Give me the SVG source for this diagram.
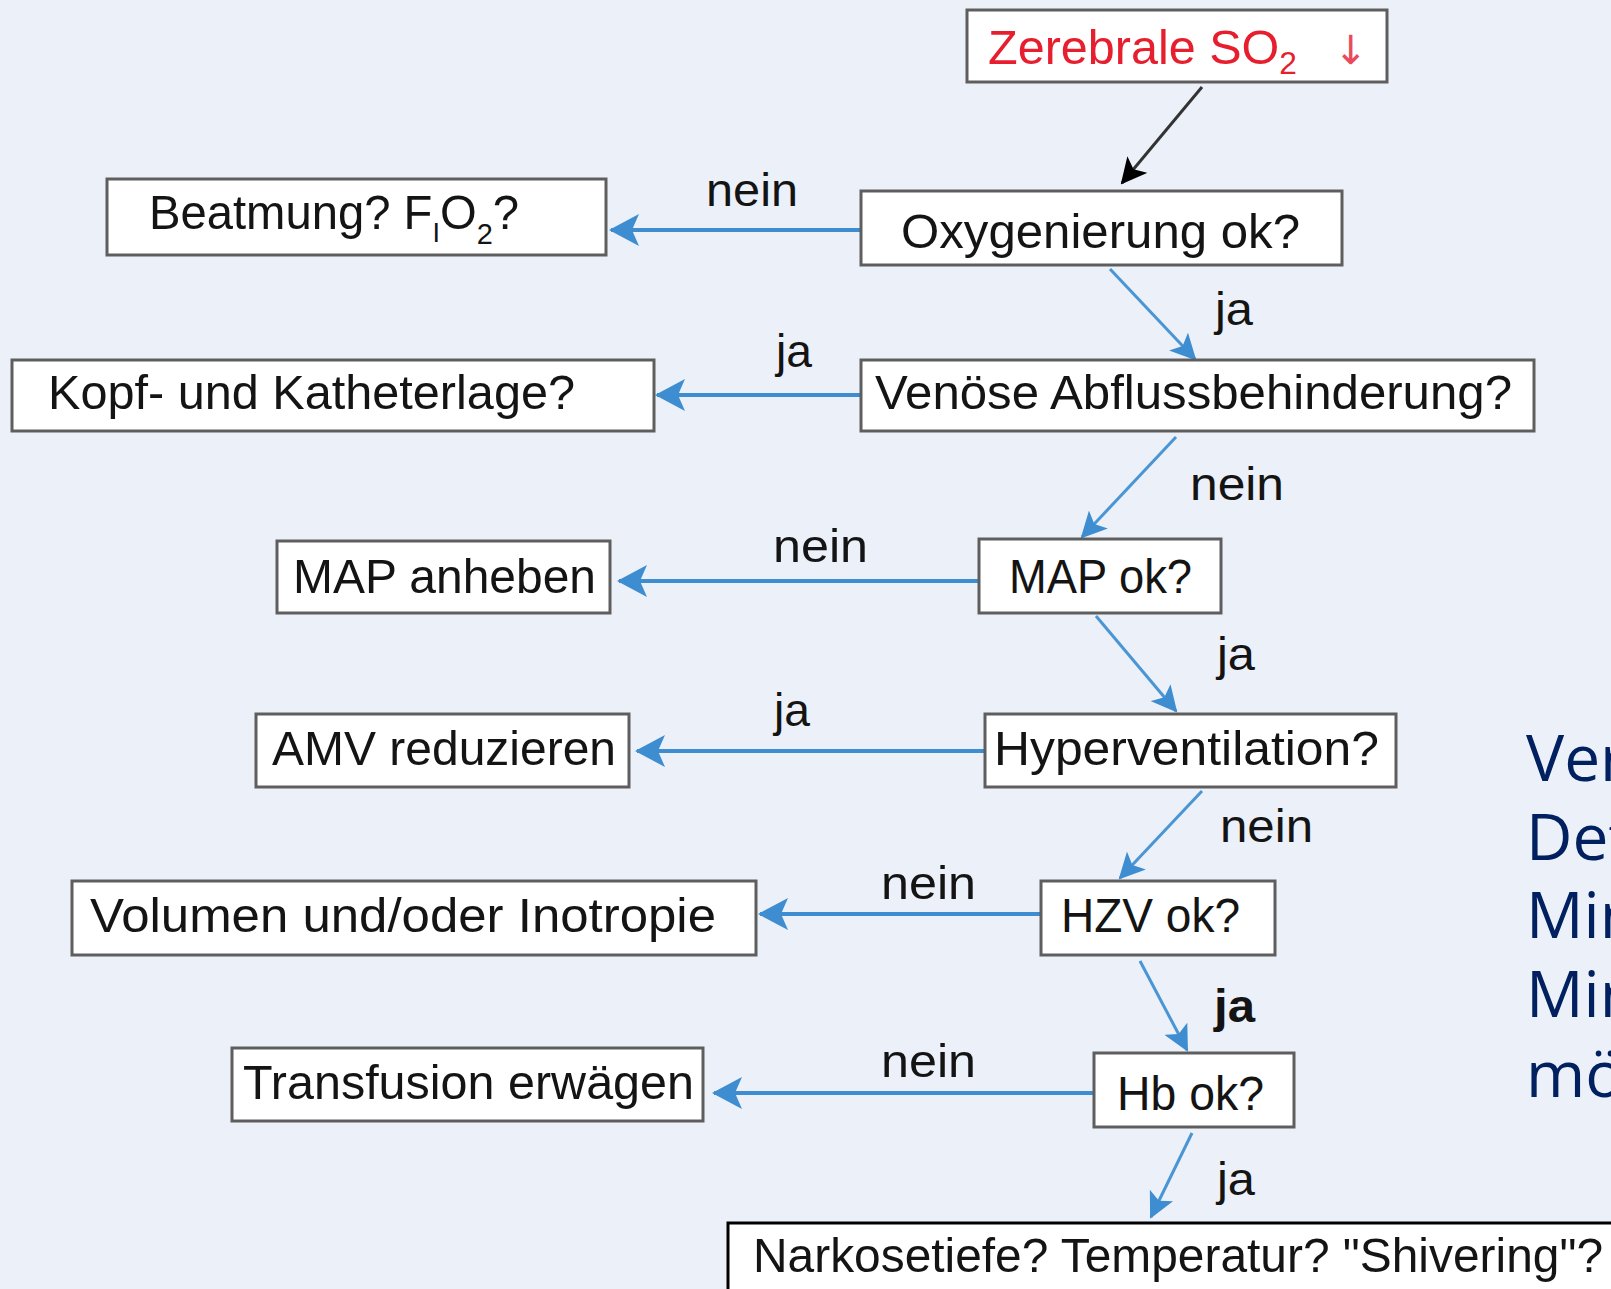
<svg xmlns="http://www.w3.org/2000/svg" width="1611" height="1289" viewBox="0 0 1611 1289">
<defs>
<style>
.box{fill:#ffffff;stroke:#5e5e5e;stroke-width:3}
.t{font-family:"Liberation Sans",Arial,sans-serif;font-size:49px;fill:#141414}
.lbl{font-family:"Liberation Sans",Arial,sans-serif;font-size:46px;fill:#141414}
.h{fill:none;stroke:#3d8dd0;stroke-width:4}
.d{fill:none;stroke:#4a95d4;stroke-width:3}
.side{font-family:"Open Sans","Noto Sans",sans-serif;font-size:64px;fill:#002060}
</style>
<marker id="ah" viewBox="0 0 30 32" refX="28" refY="16" markerWidth="30" markerHeight="32" markerUnits="userSpaceOnUse" orient="auto">
<path d="M0,0 L30,16 L0,32 L7,16 z" fill="#3d8dd0"/>
</marker>
<marker id="ad" viewBox="0 0 26 26" refX="24" refY="13" markerWidth="26" markerHeight="26" markerUnits="userSpaceOnUse" orient="auto">
<path d="M0,0 L26,13 L0,26 L6,13 z" fill="#3d8dd0"/>
</marker>
<marker id="ak" viewBox="0 0 26 26" refX="24" refY="13" markerWidth="26" markerHeight="26" markerUnits="userSpaceOnUse" orient="auto">
<path d="M0,0 L26,13 L0,26 L6,13 z" fill="#000"/>
</marker>
</defs>
<rect x="0" y="0" width="1611" height="1289" fill="#ecf0f9"/>

<g id="connectors">
<line x1="1202" y1="87" x2="1122" y2="183" stroke="#333" stroke-width="3" marker-end="url(#ak)"/>
<line class="h" x1="861" y1="230" x2="611" y2="230" marker-end="url(#ah)"/>
<line class="d" x1="1110" y1="269" x2="1195" y2="359" marker-end="url(#ad)"/>
<line class="h" x1="861" y1="395" x2="657" y2="395" marker-end="url(#ah)"/>
<line class="d" x1="1176" y1="437" x2="1082" y2="537" marker-end="url(#ad)"/>
<line class="h" x1="979" y1="581" x2="619" y2="581" marker-end="url(#ah)"/>
<line class="d" x1="1096" y1="616" x2="1176" y2="711" marker-end="url(#ad)"/>
<line class="h" x1="985" y1="751" x2="637" y2="751" marker-end="url(#ah)"/>
<line class="d" x1="1202" y1="791" x2="1120" y2="878" marker-end="url(#ad)"/>
<line class="h" x1="1041" y1="914" x2="760" y2="914" marker-end="url(#ah)"/>
<line class="d" x1="1140" y1="961" x2="1187" y2="1050" marker-end="url(#ad)"/>
<line class="h" x1="1094" y1="1093" x2="714" y2="1093" marker-end="url(#ah)"/>
<line class="d" x1="1192" y1="1133" x2="1151" y2="1217" marker-end="url(#ad)"/>
<text class="lbl" x="706" y="206" textLength="92" lengthAdjust="spacingAndGlyphs">nein</text>
<text class="lbl" x="1215" y="325" textLength="38" lengthAdjust="spacingAndGlyphs">ja</text>
<text class="lbl" x="776" y="367" textLength="36" lengthAdjust="spacingAndGlyphs">ja</text>
<text class="lbl" x="1190" y="500" textLength="94" lengthAdjust="spacingAndGlyphs">nein</text>
<text class="lbl" x="773" y="562" textLength="95" lengthAdjust="spacingAndGlyphs">nein</text>
<text class="lbl" x="1217" y="670" textLength="38" lengthAdjust="spacingAndGlyphs">ja</text>
<text class="lbl" x="774" y="726" textLength="36" lengthAdjust="spacingAndGlyphs">ja</text>
<text class="lbl" x="1220" y="842" textLength="93" lengthAdjust="spacingAndGlyphs">nein</text>
<text class="lbl" x="881" y="899" textLength="95" lengthAdjust="spacingAndGlyphs">nein</text>
<text class="lbl" x="1214" y="1022" textLength="41" lengthAdjust="spacingAndGlyphs" font-weight="bold">ja</text>
<text class="lbl" x="881" y="1077" textLength="95" lengthAdjust="spacingAndGlyphs">nein</text>
<text class="lbl" x="1217" y="1195" textLength="38" lengthAdjust="spacingAndGlyphs">ja</text>
</g>

<g id="n-zerebrale">
<rect class="box" x="967" y="10" width="420" height="72"/>
<text class="t" x="988" y="64" textLength="309" lengthAdjust="spacingAndGlyphs" style="fill:#e61e2e">Zerebrale SO<tspan font-size="32" dy="10">2</tspan></text>
<text x="1334" y="64" font-family="DejaVu Sans, sans-serif" font-size="40" fill="#ea4a5c">↓</text>
</g>
<g id="n-oxy">
<rect class="box" x="861" y="191" width="481" height="74"/>
<text class="t" x="901" y="248" textLength="399" lengthAdjust="spacingAndGlyphs">Oxygenierung ok?</text>
</g>
<g id="n-beatmung">
<rect class="box" x="107" y="179" width="499" height="76"/>
<text class="t" x="149" y="229" textLength="370" lengthAdjust="spacingAndGlyphs">Beatmung? F<tspan font-size="28" dy="13">I</tspan><tspan dy="-13">O</tspan><tspan font-size="30" dy="15">2</tspan><tspan dy="-15">?</tspan></text>
</g>
<g id="n-venoese">
<rect class="box" x="861" y="360" width="673" height="71"/>
<text class="t" x="875" y="409" textLength="637" lengthAdjust="spacingAndGlyphs">Venöse Abflussbehinderung?</text>
</g>
<g id="n-kopf">
<rect class="box" x="12" y="360" width="642" height="71"/>
<text class="t" x="48" y="409" textLength="527" lengthAdjust="spacingAndGlyphs">Kopf- und Katheterlage?</text>
</g>
<g id="n-mapok">
<rect class="box" x="979" y="539" width="242" height="74"/>
<text class="t" x="1009" y="593" textLength="183" lengthAdjust="spacingAndGlyphs">MAP ok?</text>
</g>
<g id="n-mapanheben">
<rect class="box" x="277" y="541" width="333" height="72"/>
<text class="t" x="293" y="593" textLength="303" lengthAdjust="spacingAndGlyphs">MAP anheben</text>
</g>
<g id="n-hyper">
<rect class="box" x="985" y="714" width="411" height="73"/>
<text class="t" x="994" y="765" textLength="385" lengthAdjust="spacingAndGlyphs">Hyperventilation?</text>
</g>
<g id="n-amv">
<rect class="box" x="256" y="714" width="373" height="73"/>
<text class="t" x="272" y="765" textLength="344" lengthAdjust="spacingAndGlyphs">AMV reduzieren</text>
</g>
<g id="n-hzv">
<rect class="box" x="1041" y="881" width="234" height="74"/>
<text class="t" x="1061" y="932" textLength="179" lengthAdjust="spacingAndGlyphs">HZV ok?</text>
</g>
<g id="n-volumen">
<rect class="box" x="72" y="881" width="684" height="74"/>
<text class="t" x="90" y="932" textLength="626" lengthAdjust="spacingAndGlyphs">Volumen und/oder Inotropie</text>
</g>
<g id="n-hb">
<rect class="box" x="1094" y="1053" width="200" height="74"/>
<text class="t" x="1117" y="1110" textLength="147" lengthAdjust="spacingAndGlyphs">Hb ok?</text>
</g>
<g id="n-transfusion">
<rect class="box" x="232" y="1048" width="471" height="73"/>
<text class="t" x="243" y="1099" textLength="451" lengthAdjust="spacingAndGlyphs">Transfusion erwägen</text>
</g>
<g id="n-narkose">
<rect class="box" x="728" y="1223" width="900" height="80" style="stroke:#000"/>
<text class="t" x="753" y="1272" textLength="850" lengthAdjust="spacingAndGlyphs">Narkosetiefe? Temperatur? "Shivering"?</text>
</g>

<g id="side-text">
<text class="side" x="1526" y="781">Ver</text>
<text class="side" x="1526" y="860">Det</text>
<text class="side" x="1526" y="938">Min</text>
<text class="side" x="1526" y="1017">Min</text>
<text class="side" x="1526" y="1097">mö</text>
</g>
</svg>
